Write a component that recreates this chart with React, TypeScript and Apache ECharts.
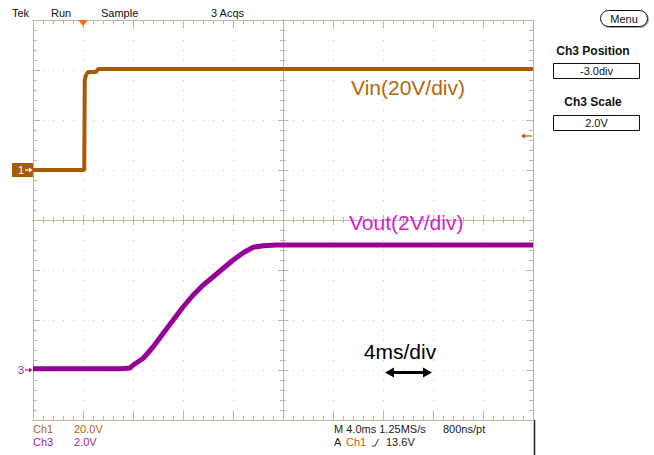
import React, { useEffect, useRef } from "react";
import * as echarts from "echarts";

// ---- data ----
const ch1TimeMs = [-4, 0.1, 0.14, 0.24, 0.4, 1.04, 1.2, 36];
const ch1Volts = [0, 0, 36, 38, 39.2, 39.2, 40.4, 40.4];

const ch3TimeMs = [-4, 3.0, 3.76, 4.02, 4.82, 5.62, 6.42, 7.22, 8.02, 8.82, 9.62, 10.42, 11.22, 12.02, 12.82, 13.62, 14.42, 15.5, 36];
const ch3Volts = [0.05, 0.05, 0.08, 0.2, 0.47, 0.93, 1.47, 2.0, 2.53, 3.0, 3.4, 3.73, 4.07, 4.4, 4.69, 4.91, 4.97, 5.0, 5.0];

const ch1VoltsPerDiv = 20;
const ch1PositionDiv = 1;
const ch3VoltsPerDiv = 2;
const ch3PositionDiv = -3;
const triggerLevelV = 13.6;
const triggerTimeMs = 0;

const timeMinMs = -4;
const timeMaxMs = 36;
const timePerDivMs = 4;
const divMin = -4;
const divMax = 4;

const statusTexts = ["Tek", "Run", "Sample", "3 Acqs"];
const bottomLeftLabels = ["Ch1", "20.0V", "Ch3", "2.0V"];
const bottomRightLabels = ["M 4.0ms 1.25MS/s", "800ns/pt", "A", "Ch1", "13.6V"];
const panelLabels = ["Ch3 Position", "-3.0div", "Ch3 Scale", "2.0V"];
const annotations = ["Vin(20V/div)", "Vout(2V/div)", "4ms/div"];

// ---- styling ----
const FONT = "'Liberation Sans', Arial, sans-serif";
const TAN = "#bdb89d";
const DOT = "#c9c5b2";
const CH1 = "#a85a04";
const CH1_TEXT = "#b5650f";
const CH3 = "#960096";
const CH3_TEXT = "#d11fd1";
const CH3_LABEL = "#a31ca3";
const TRIG = "#ff6a13";

function xAx(position: string, offset: number, major: number, minor: number, split: boolean) {
  return {
    type: "value",
    gridIndex: 0,
    min: timeMinMs,
    max: timeMaxMs,
    interval: timePerDivMs,
    position,
    offset,
    axisLine: { show: true, onZero: false, lineStyle: { color: TAN, width: 1 } },
    axisTick: { show: true, inside: true, length: major, lineStyle: { color: TAN, width: 1 } },
    minorTick: { show: true, splitNumber: 5, length: minor, lineStyle: { color: TAN, width: 1 } },
    axisLabel: { show: false },
    splitLine: { show: split, lineStyle: { color: DOT, width: 1, type: [1, 9] } },
    minorSplitLine: { show: false },
  };
}
function yAx(position: string, offset: number, major: number, minor: number, split: boolean) {
  return {
    type: "value",
    gridIndex: 0,
    min: divMin,
    max: divMax,
    interval: 1,
    position,
    offset,
    axisLine: { show: true, onZero: false, lineStyle: { color: TAN, width: 1 } },
    axisTick: { show: true, inside: true, length: major, lineStyle: { color: TAN, width: 1 } },
    minorTick: { show: true, splitNumber: 5, length: minor, lineStyle: { color: TAN, width: 1 } },
    axisLabel: { show: false },
    splitLine: { show: split, lineStyle: { color: DOT, width: 1, type: [1, 9] } },
    minorSplitLine: { show: false },
  };
}

function txt(text: string, x: number, y: number, size: number, fill: string, align = "left", weight = "normal") {
  return {
    type: "text",
    x,
    y,
    z: 100,
    style: {
      text,
      font: `${weight} ${size}px ${FONT}`,
      fill,
      textAlign: align,
      textVerticalAlign: "middle",
    },
  };
}

export default function App() {
  const ref = useRef<HTMLDivElement>(null);
  useEffect(() => {
    if (!ref.current) return;
    const chart = echarts.init(ref.current, null, { renderer: "svg" });
    const ch1Data = ch1TimeMs.map((t, i) => [t, ch1Volts[i] / ch1VoltsPerDiv + ch1PositionDiv]);
    const ch3Data = ch3TimeMs.map((t, i) => [t, ch3Volts[i] / ch3VoltsPerDiv + ch3PositionDiv]);
    chart.setOption({
      animation: false,
      backgroundColor: "#ffffff",
      grid: { left: 33, top: 20, width: 500, height: 400, containLabel: false },
      xAxis: [
        xAx("bottom", 0, 9, 4, true),
        xAx("top", 0, 8, 4, false),
        xAx("bottom", -200, 5, 3, false),
        xAx("top", -200, 5, 3, false),
      ],
      yAxis: [
        yAx("left", 0, 7, 4, true),
        yAx("right", 0, 7, 4, false),
        yAx("left", -250, 5, 3, false),
        yAx("right", -250, 5, 3, false),
      ],
      series: [
        {
          type: "line",
          name: "Ch1",
          xAxisIndex: 0,
          yAxisIndex: 0,
          data: ch1Data,
          showSymbol: false,
          lineStyle: { color: CH1, width: 4 },
          z: 5,
        },
        {
          type: "line",
          name: "Ch3",
          xAxisIndex: 0,
          yAxisIndex: 0,
          data: ch3Data,
          showSymbol: false,
          lineStyle: { color: CH3, width: 5, join: "round" },
          z: 5,
        },
      ],
    });

    const px = (t: number, d: number) => chart.convertToPixel({ xAxisIndex: 0, yAxisIndex: 0 }, [t, d]) as number[];
    const ch1Zero = px(timeMinMs, ch1PositionDiv);
    const ch3Zero = px(timeMinMs, ch3PositionDiv);
    const trigLevel = px(timeMaxMs, triggerLevelV / ch1VoltsPerDiv + ch1PositionDiv);
    const trigPos = px(triggerTimeMs, divMax);
    const gl = ch1Zero[0];

    const g: any[] = [];
    // status line
    g.push(txt(statusTexts[0], 12, 13, 11, "#111"));
    g.push(txt(statusTexts[1], 51, 13, 11, "#111"));
    g.push(txt(statusTexts[2], 101, 13, 11, "#111"));
    g.push(txt(statusTexts[3], 211, 13, 11, "#111"));
    // trigger position marker
    g.push({ type: "polygon", z: 100, shape: { points: [[trigPos[0] - 5, trigPos[1]], [trigPos[0] + 5, trigPos[1]], [trigPos[0], trigPos[1] + 6]] }, style: { fill: TRIG } });
    // Ch1 ground marker
    const y1 = ch1Zero[1];
    g.push({ type: "rect", z: 100, shape: { x: 12, y: y1 - 7, width: gl - 12, height: 14 }, style: { fill: CH1 } });
    g.push(txt("1", 18, y1, 11, "#ffffff"));
    g.push({ type: "line", z: 101, shape: { x1: 25, y1: y1, x2: 30, y2: y1 }, style: { stroke: "#ffffff", lineWidth: 1.2 } });
    g.push({ type: "polygon", z: 101, shape: { points: [[29, y1 - 2.5], [32.5, y1], [29, y1 + 2.5]] }, style: { fill: "#ffffff" } });
    // Ch3 ground marker
    const y3 = ch3Zero[1];
    g.push(txt("3", 18, y3, 11, CH3_LABEL));
    g.push({ type: "line", z: 101, shape: { x1: 25, y1: y3, x2: 30, y2: y3 }, style: { stroke: CH3_LABEL, lineWidth: 1.2 } });
    g.push({ type: "polygon", z: 101, shape: { points: [[29, y3 - 2.5], [32.5, y3], [29, y3 + 2.5]] }, style: { fill: CH3_LABEL } });
    // trigger level marker (right)
    const yt = trigLevel[1];
    const xr = trigLevel[0];
    g.push({ type: "line", z: 101, shape: { x1: xr - 8, y1: yt, x2: xr - 1, y2: yt }, style: { stroke: CH1, lineWidth: 1.2 } });
    g.push({ type: "polygon", z: 101, shape: { points: [[xr - 8, yt - 2.5], [xr - 12, yt], [xr - 8, yt + 2.5]] }, style: { fill: CH1 } });
    // annotations
    g.push(txt(annotations[0], 351, 87, 21, CH1_TEXT));
    g.push(txt(annotations[1], 349, 222, 21, CH3_TEXT));
    g.push(txt(annotations[2], 400, 351, 21, "#000", "center"));
    g.push({ type: "line", z: 101, shape: { x1: 390, y1: 372.5, x2: 427, y2: 372.5 }, style: { stroke: "#000", lineWidth: 3 } });
    g.push({ type: "polygon", z: 101, shape: { points: [[385, 372.5], [394, 367.5], [394, 377.5]] }, style: { fill: "#000" } });
    g.push({ type: "polygon", z: 101, shape: { points: [[432, 372.5], [423, 367.5], [423, 377.5]] }, style: { fill: "#000" } });
    // bottom left readouts
    g.push(txt(bottomLeftLabels[0], 33, 429, 11, CH1_TEXT));
    g.push(txt(bottomLeftLabels[1], 74, 429, 11, CH1_TEXT));
    g.push(txt(bottomLeftLabels[2], 33, 442, 11, CH3_LABEL));
    g.push(txt(bottomLeftLabels[3], 74, 442, 11, CH3_LABEL));
    // bottom right readouts
    g.push(txt(bottomRightLabels[0], 334, 429, 11, "#222"));
    g.push(txt(bottomRightLabels[1], 443, 429, 11, "#222"));
    g.push(txt(bottomRightLabels[2], 334, 442, 11, "#222"));
    g.push(txt(bottomRightLabels[3], 346, 442, 11, CH1_TEXT));
    g.push({ type: "polyline", z: 101, shape: { points: [[372, 446], [375, 446], [378.5, 439]] }, style: { stroke: "#333", lineWidth: 1, fill: null } });
    g.push(txt(bottomRightLabels[4], 386, 442, 11, "#222"));
    g.push({ type: "line", z: 101, shape: { x1: 534.5, y1: 420, x2: 534.5, y2: 455 }, style: { stroke: "#222", lineWidth: 1.5 } });
    // right panel
    g.push({ type: "rect", z: 100, shape: { x: 600.5, y: 10.5, width: 47, height: 16, r: 8 }, style: { fill: "#fff", stroke: "#111", lineWidth: 1, shadowColor: "rgba(0,0,0,0.35)", shadowOffsetX: 1, shadowOffsetY: 1, shadowBlur: 1 } });
    g.push(txt("Menu", 624, 18.5, 11, "#111", "center"));
    g.push(txt(panelLabels[0], 593, 51, 12, "#111", "center", "bold"));
    g.push({ type: "rect", z: 100, shape: { x: 553.5, y: 63.5, width: 86, height: 15 }, style: { fill: "#fff", stroke: "#111", lineWidth: 1 } });
    g.push(txt(panelLabels[1], 596.5, 71, 11, "#111", "center"));
    g.push(txt(panelLabels[2], 593, 102, 12, "#111", "center", "bold"));
    g.push({ type: "rect", z: 100, shape: { x: 553.5, y: 115.5, width: 86, height: 15 }, style: { fill: "#fff", stroke: "#111", lineWidth: 1 } });
    g.push(txt(panelLabels[3], 596.5, 123, 11, "#111", "center"));

    chart.setOption({ graphic: { elements: g } });
    return () => chart.dispose();
  }, []);
  return (
    <div
      ref={ref}
      style={{ position: "fixed", left: 0, top: 0, width: 654, height: 455, background: "#fff" }}
    />
  );
}
